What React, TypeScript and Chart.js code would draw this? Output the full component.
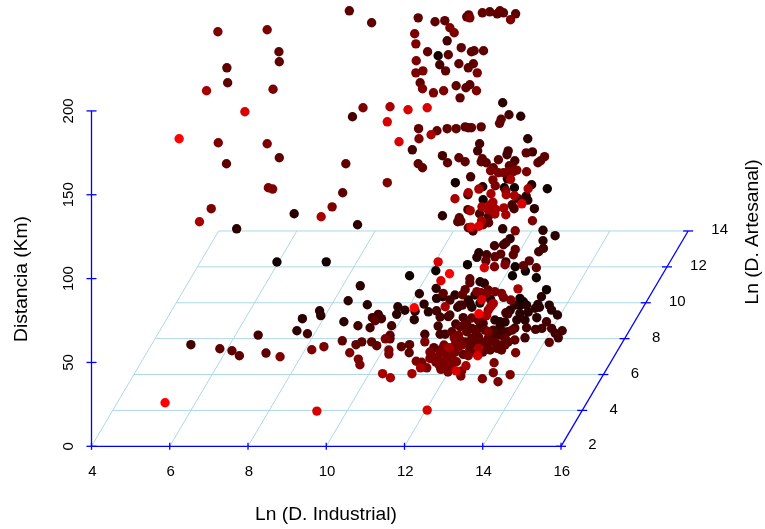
import React, { useEffect, useRef } from "react";
import { Chart, registerables } from "chart.js";

Chart.register(...registerables);

const industrialTicks = [4, 6, 8, 10, 12, 14, 16];
const distanceTicks = [0, 50, 100, 150, 200];
const artesanalTicks = [2, 4, 6, 8, 10, 12, 14];

const level0 = [[12.86,232.9],[13.30,157.2],[14.55,154.2],[14.81,154.2],[15.65,153.6],[14.01,147.0],[13.61,108.3],[14.83,107.1],[15.09,104.5],[14.76,101.7],[15.37,100.5],[15.63,93.4],[14.95,88.2],[15.04,86.2],[14.95,84.2],[10.00,110.0],[8.74,109.9],[12.80,104.7],[12.13,101.7]];
const level1 = [[9.18,138.7],[10.80,132.1],[7.71,129.7],[14.51,204.9],[14.97,196.8],[15.15,183.4],[14.63,159.5],[14.00,154.8],[15.25,156.0],[13.62,150.0],[15.11,149.2],[15.15,146.8],[15.32,141.7],[12.97,137.5],[14.51,129.7],[15.54,128.8],[15.85,125.6],[14.70,123.8],[15.54,122.6],[13.90,115.4],[13.85,112.7],[14.59,110.0],[13.93,98.1],[14.04,97.2],[14.20,87.6],[15.50,89.2],[15.12,84.2],[15.41,84.6],[15.45,82.9],[15.34,82.3],[15.70,84.2],[15.76,81.2],[15.91,78.3],[12.50,84.8],[12.61,80.2],[13.36,82.9],[13.67,85.2],[14.95,79.3],[14.87,75.3],[15.38,76.7],[14.31,75.3],[14.44,74.3],[14.44,71.3],[12.81,94.2],[10.87,95.7],[12.38,91.0],[12.82,88.2],[10.56,86.8],[11.05,84.4],[11.83,83.2],[12.01,81.1],[12.27,80.6],[11.80,78.7],[9.83,80.8],[9.86,77.9],[9.39,76.1],[10.45,74.3],[12.25,75.5],[9.25,68.9],[13.63,87.2],[13.72,82.9],[12.98,89.2],[14.70,81.2],[14.82,84.2],[15.16,80.0],[15.08,75.3],[14.57,74.1],[13.93,85.4],[13.80,90.2],[13.29,90.2]];
const level2 = [[10.67,196.5],[13.09,241.8],[12.90,227.5],[14.67,197.7],[13.92,180.4],[13.87,176.2],[12.20,176.8],[14.62,173.9],[14.65,176.2],[15.27,175.6],[14.82,170.3],[12.97,173.3],[13.69,160.7],[14.91,147.6],[14.75,144.0],[14.80,141.7],[13.62,141.1],[13.92,138.7],[14.15,137.3],[13.75,128.4],[14.30,119.6],[14.59,121.4],[14.53,120.2],[15.55,118.0],[15.43,116.0],[14.10,114.2],[12.82,80.8],[13.48,84.2],[13.42,84.2],[14.59,79.6],[14.64,78.9],[15.12,70.7],[15.63,74.3],[15.35,69.7],[15.51,70.3],[15.76,70.3],[16.03,68.9],[15.85,67.4],[15.93,64.7],[15.08,64.7],[12.86,71.7],[13.12,77.3],[13.16,78.3],[13.50,76.7],[13.31,72.9],[13.59,72.9],[13.72,70.3],[13.89,70.3],[14.01,73.3],[14.27,69.3],[14.53,68.3],[14.65,68.3],[14.44,66.3],[14.27,64.4],[12.52,66.8],[12.91,66.8],[13.04,66.8],[11.18,76.7],[11.33,78.7],[11.41,76.1],[10.81,71.9],[11.12,70.7],[11.67,71.9],[9.52,67.1],[8.26,66.3],[6.54,60.6],[14.82,70.5],[13.16,87.2],[12.91,77.1]];
const level3 = [[10.59,259.7],[11.16,252.6],[8.79,235.3],[8.80,229.3],[7.46,225.7],[7.48,216.8],[8.80,172.1],[7.45,168.5],[10.50,168.5],[10.42,151.2],[12.35,255.5],[12.78,253.2],[13.03,253.8],[12.59,235.3],[13.12,233.5],[13.45,237.7],[13.71,235.3],[13.78,235.9],[14.02,235.9],[13.05,223.9],[13.39,228.1],[13.63,225.7],[13.76,228.1],[12.40,216.8],[13.32,215.0],[13.57,213.8],[13.67,215.6],[13.42,207.8],[13.59,256.1],[13.64,257.3],[13.99,258.5],[14.18,259.1],[14.37,257.9],[14.44,259.7],[14.53,258.5],[14.84,257.9],[14.47,195.0],[14.43,192.6],[12.36,189.4],[12.83,188.2],[13.09,189.4],[13.32,189.4],[13.55,190.5],[13.63,190.0],[13.71,190.0],[13.96,190.5],[13.10,169.1],[13.39,172.1],[13.55,169.7],[12.35,168.5],[12.46,166.1],[13.99,171.5],[13.96,169.7],[14.09,169.1],[14.40,170.9],[15.11,175.0],[15.58,172.7],[15.48,170.3],[15.41,169.1],[14.68,167.3],[14.75,166.7],[14.27,166.1],[13.40,136.3],[13.36,133.9],[13.44,134.3],[14.15,133.3],[14.01,132.1],[13.63,130.3],[14.83,117.4],[14.78,114.2],[14.08,110.6],[14.31,113.0],[14.46,114.6],[15.19,110.6],[15.04,107.7],[15.37,106.5],[13.67,99.9],[13.67,97.5],[13.55,93.4],[13.48,90.4],[14.14,93.2],[12.99,91.2],[15.70,62.0],[13.42,71.3],[13.21,68.3],[13.59,68.3],[13.72,64.4],[13.89,65.3],[13.55,62.3],[13.67,60.4],[13.85,61.4],[13.97,62.3],[13.67,57.8],[13.50,54.8],[14.65,62.3],[14.57,60.4],[14.37,58.4],[14.48,57.4],[12.75,58.8],[12.95,58.0],[11.25,74.9],[11.63,66.2],[10.41,62.9],[10.91,62.3],[10.76,60.6],[11.16,62.3],[11.63,64.1],[11.29,60.0],[12.13,60.6],[11.92,59.4],[7.28,58.2],[7.59,57.0],[7.78,54.0],[8.46,55.6],[12.12,55.8],[13.80,69.3],[14.06,69.3],[14.31,62.2],[14.11,60.4],[13.42,63.4],[13.80,56.2],[14.19,57.4],[13.55,72.3],[13.88,75.3],[14.14,64.5],[14.57,64.5],[14.75,69.3],[14.82,63.4],[13.72,76.5],[14.44,60.4],[14.00,56.2]];
const level4 = [[7.23,247.2],[8.49,248.4],[8.64,212.9],[10.94,201.9],[7.24,181.0],[8.49,180.4],[11.56,157.2],[8.52,154.2],[8.63,153.4],[10.15,142.8],[7.06,141.7],[13.16,249.6],[13.27,246.6],[12.26,246.0],[12.29,240.0],[12.30,229.9],[12.29,222.7],[12.47,223.9],[13.86,222.7],[12.46,213.2],[12.74,210.8],[13.00,212.0],[13.84,212.0],[13.67,255.5],[14.71,254.4],[12.37,183.4],[14.87,164.7],[14.78,163.7],[14.65,163.7],[14.53,163.1],[14.40,163.1],[14.20,164.3],[15.12,163.7],[14.26,158.9],[14.32,155.4],[14.59,152.4],[15.27,134.5],[14.83,128.5],[14.30,107.1],[14.57,108.3],[13.85,92.2],[13.96,91.6],[14.10,91.2],[14.31,92.2],[14.48,91.2],[14.53,88.8],[14.72,87.2],[14.23,84.2],[14.14,81.2],[14.08,77.7],[14.84,55.8],[14.14,68.3],[12.52,62.3],[13.38,66.3],[13.27,64.7],[13.38,59.4],[13.08,54.4],[13.21,54.4],[12.65,52.4],[12.74,53.4],[12.86,53.0],[13.08,51.4],[13.16,49.5],[13.33,50.4],[12.44,50.1],[12.57,46.8],[12.89,48.4],[12.93,45.9],[13.12,48.4],[13.46,44.9],[13.44,41.9],[14.29,49.8],[14.27,43.9],[14.70,42.7],[13.99,40.3],[14.39,38.5],[13.63,54.0],[12.30,50.7],[11.51,64.1],[9.63,57.6],[9.94,59.4],[10.60,55.8],[11.60,57.4],[11.60,55.0],[10.82,52.0],[10.86,48.6],[8.82,53.4],[12.91,56.2],[13.04,57.4],[13.29,56.2],[12.96,50.2],[13.21,46.7],[13.01,60.4],[12.80,50.2],[12.65,56.2],[13.29,60.4],[13.47,60.4],[13.11,44.3]];
const level5 = [[6.94,212.0],[11.63,202.5],[6.76,133.9],[9.87,136.9],[12.68,185.8],[14.71,159.2],[13.90,153.4],[15.16,153.6],[13.63,151.2],[14.21,150.6],[14.60,150.0],[14.81,149.4],[13.29,147.6],[14.26,145.5],[13.98,142.8],[14.19,143.9],[13.68,140.5],[14.14,140.9],[14.33,141.3],[14.54,142.2],[14.31,138.5],[14.59,138.1],[13.97,134.5],[14.90,93.9],[13.04,83.2],[14.19,82.9],[14.27,85.2],[14.10,78.3],[13.89,58.4],[13.14,58.8],[13.57,48.0],[12.41,46.8],[11.44,43.3],[11.64,40.9],[12.19,43.3]];
const level6 = [[7.92,199.5],[11.56,193.5],[12.09,200.7],[12.58,201.9],[11.86,181.6],[15.00,144.6],[13.90,131.2],[13.70,130.7],[14.04,106.5],[12.86,110.0],[12.93,98.7],[13.97,87.4],[13.87,54.0],[13.32,45.0],[12.58,21.6],[9.76,21.0]];
const level7 = [[6.24,183.4],[13.15,102.9],[13.90,79.0],[12.25,82.6],[5.88,26.0]];

const levels = [level0, level1, level2, level3, level4, level5, level6, level7];
const levelColors = ["#120000", "#2a0000", "#440000", "#5f0000", "#7d0000", "#a60000", "#d80000", "#ff0000"];

const FONT = '"Liberation Sans", Arial, sans-serif';
const TEXT = "#000000";
const GRID = "#ADD8E6";
const BLUE = "#0000FF";

// Oblique projection of the depth axis onto the front plane
const depthX = (d: number) => ((d - 2) * 3.25) / 12;
const depthY = (d: number) => ((d - 2) * 128.4) / 12;

const segment = (a: number[], b: number[], color: string, width: number, order: number) => ({
  type: "scatter" as const,
  data: [{ x: a[0], y: a[1] }, { x: b[0], y: b[1] }],
  showLine: true,
  borderColor: color,
  borderWidth: width,
  pointRadius: 0,
  order,
  clip: false as const,
});

const xLo = industrialTicks[0];
const xHi = industrialTicks[industrialTicks.length - 1];
const dHi = artesanalTicks[artesanalTicks.length - 1];
const zHi = distanceTicks[distanceTicks.length - 1];

const gridSets = [
  ...artesanalTicks.slice(1).map((d) =>
    segment([xLo + depthX(d), depthY(d)], [xHi + depthX(d), depthY(d)], GRID, 1, 30)
  ),
  ...industrialTicks.slice(0, -1).map((x) =>
    segment([x, 0], [x + depthX(dHi), depthY(dHi)], GRID, 1, 30)
  ),
];

const TX = 0.128;
const TZ = 2.1;
const axisSets = [
  segment([xLo, 0], [xHi, 0], BLUE, 1.3, 20),
  segment([xLo, 0], [xLo, zHi], BLUE, 1.3, 20),
  segment([xHi, 0], [xHi + depthX(dHi), depthY(dHi)], BLUE, 1.3, 20),
  ...industrialTicks.map((x) => segment([x, -TZ], [x, TZ], BLUE, 1.3, 20)),
  ...distanceTicks.map((z) => segment([xLo - TX, z], [xLo + TX, z], BLUE, 1.3, 20)),
  ...artesanalTicks.map((d) =>
    segment([xHi + depthX(d) - TX, depthY(d)], [xHi + depthX(d) + TX, depthY(d)], BLUE, 1.3, 20)
  ),
];

const pointSets = levels.map((pts, i) => ({
  type: "scatter" as const,
  data: pts.map((p) => ({ x: p[0], y: p[1] })),
  backgroundColor: levelColors[i],
  borderWidth: 0,
  pointRadius: 4.7,
  order: 10 - i,
  clip: false as const,
}));

const labelsPlugin = {
  id: "labels3d",
  afterDraw(chart: any) {
    const { ctx, scales } = chart;
    const px = (v: number) => scales.x.getPixelForValue(v);
    const py = (v: number) => scales.y.getPixelForValue(v);
    ctx.save();
    ctx.fillStyle = TEXT;
    ctx.textAlign = "center";
    ctx.textBaseline = "middle";
    ctx.font = `15px ${FONT}`;
    artesanalTicks.forEach((d) => {
      ctx.fillText(String(d), px(xHi + depthX(d)) + 31.5, py(depthY(d)) - 1);
    });
    ctx.font = `19.2px ${FONT}`;
    ctx.fillText("Ln (D. Industrial)", 326, 515);
    const rotated = (t: string, x: number, y: number) => {
      ctx.save();
      ctx.translate(x, y);
      ctx.rotate(-Math.PI / 2);
      ctx.fillText(t, 0, 0);
      ctx.restore();
    };
    rotated("Distancia (Km)", 22, 279);
    rotated("Ln (D. Artesanal)", 753, 232);
    ctx.restore();
  },
};

const noPadding = (s: any) => {
  s.paddingTop = 0;
  s.paddingBottom = 0;
  s.paddingLeft = 0;
  s.paddingRight = 0;
};

export default function App() {
  const ref = useRef<HTMLCanvasElement | null>(null);
  useEffect(() => {
    if (!ref.current) return;
    const chart = new Chart(ref.current, {
      type: "scatter",
      data: { datasets: [...gridSets, ...axisSets, ...pointSets] as any },
      options: {
        animation: false,
        responsive: false,
        devicePixelRatio: 1,
        layout: { padding: { top: 10.3, right: 47.5, left: 0, bottom: 0 } },
        plugins: { legend: { display: false }, tooltip: { enabled: false } },
        scales: {
          x: {
            type: "linear",
            min: 4,
            max: 20,
            afterFit: (s: any) => { s.height = 82.7; noPadding(s); },
            afterBuildTicks: (s: any) => { s.ticks = industrialTicks.map((value) => ({ value })); },
            grid: { display: false },
            border: { display: false },
            ticks: { autoSkip: false, maxRotation: 0, padding: 9, labelOffset: 0.8, color: TEXT, font: { family: FONT, size: 15 } },
          },
          y: {
            type: "linear",
            min: 0,
            max: 260,
            afterFit: (s: any) => { s.width = 91.5; noPadding(s); },
            afterBuildTicks: (s: any) => { s.ticks = distanceTicks.map((value) => ({ value })); },
            grid: { display: false },
            border: { display: false },
            ticks: { autoSkip: false, minRotation: 90, maxRotation: 90, padding: 2, crossAlign: "center", color: TEXT, font: { family: FONT, size: 15 } },
          },
        },
      },
      plugins: [labelsPlugin],
    } as any);
    return () => chart.destroy();
  }, []);
  return (
    <div style={{ position: "fixed", left: 0, top: 0, width: 765, height: 529, background: "#fff" }}>
      <canvas ref={ref} width={765} height={529} style={{ display: "block" }} />
    </div>
  );
}
